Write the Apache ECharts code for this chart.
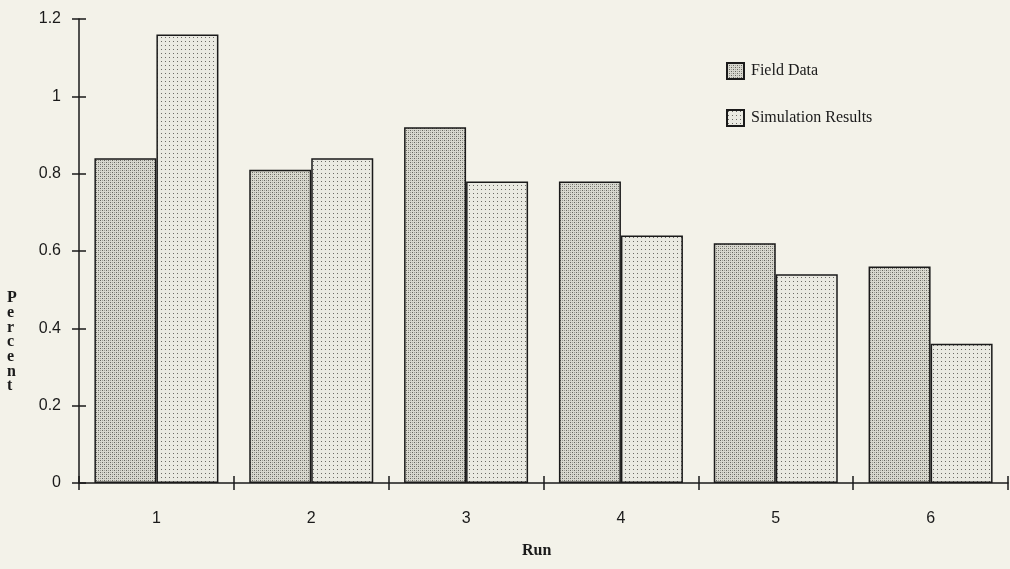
<!DOCTYPE html>
<html>
<head>
<meta charset="utf-8">
<script src="https://cdn.jsdelivr.net/npm/echarts@6/dist/echarts.min.js"></script>
<style>
  html, body { margin: 0; padding: 0; background: #f3f2e9; }
  #chart { width: 1010px; height: 569px; }
</style>
</head>
<body>
<div id="chart"></div>
<script>
// Run numbers and measured percentages
const runs = ['1', '2', '3', '4', '5', '6'];
const fieldData = [0.84, 0.81, 0.92, 0.78, 0.62, 0.56];
const simulationResults = [1.16, 0.84, 0.78, 0.64, 0.54, 0.36];
const yTicks = { min: 0, max: 1.2, interval: 0.2 };

// Stippled fills for the two bar series
function denseDots() {
  const c = document.createElement('canvas');
  c.width = 4; c.height = 4;
  const g = c.getContext('2d');
  g.fillStyle = '#d8d8cf'; g.fillRect(0, 0, 4, 4);
  g.fillStyle = '#66665f';
  g.fillRect(0, 0, 1, 1); g.fillRect(2, 2, 1, 1);
  g.fillStyle = '#a0a099';
  g.fillRect(2, 0, 1, 1); g.fillRect(0, 2, 1, 1);
  return c;
}
function sparseDots() {
  const c = document.createElement('canvas');
  c.width = 4; c.height = 4;
  const g = c.getContext('2d');
  g.fillStyle = '#eaeae2'; g.fillRect(0, 0, 4, 4);
  g.fillStyle = '#6a6a64';
  g.fillRect(1, 1, 1, 1);
  return c;
}

const W = 1010, H = 569;
const grid = { left: 79, right: 2, top: 19, bottom: 86 };
const plotW = W - grid.left - grid.right;
const plotH = H - grid.top - grid.bottom;

const chart = echarts.init(document.getElementById('chart'));
const axisColor = '#1a1a1a';
const numFont = '"Liberation Sans", Arial, sans-serif';
const serif = '"Liberation Serif", "Times New Roman", serif';
const tickStyle = { color: axisColor, width: 1.5 };

chart.setOption({
  backgroundColor: '#f3f2e9',
  animation: false,
  grid: grid,
  legend: {
    orient: 'vertical',
    left: 721,
    top: 57,
    icon: 'rect',
    itemWidth: 17,
    itemHeight: 16,
    itemGap: 29,
    textStyle: { fontFamily: serif, fontSize: 16, color: '#1a1a1a', padding: [0, 0, 0, 2] },
    data: ['Field Data', 'Simulation Results']
  },
  xAxis: [
    {
      type: 'category',
      data: runs,
      position: 'bottom',
      axisLine: { lineStyle: tickStyle },
      axisTick: { show: true, length: 7, lineStyle: tickStyle },
      axisLabel: { margin: 28, fontFamily: numFont, fontSize: 16, color: '#1a1a1a' }
    },
    {
      // upper half of the crossing ticks, moved down onto the baseline
      type: 'category',
      data: runs,
      position: 'top',
      offset: -plotH,
      axisLine: { show: true, lineStyle: { color: 'rgba(0,0,0,0)' } },
      axisTick: { show: true, length: 7, lineStyle: tickStyle },
      axisLabel: { show: false }
    }
  ],
  yAxis: [
    {
      type: 'value',
      position: 'left',
      min: yTicks.min, max: yTicks.max, interval: yTicks.interval,
      axisLine: { show: true, lineStyle: tickStyle },
      axisTick: { show: true, length: 7, lineStyle: tickStyle },
      splitLine: { show: false },
      axisLabel: { margin: 18, fontFamily: numFont, fontSize: 16, color: '#1a1a1a' }
    },
    {
      // right half of the crossing ticks, moved onto the left axis line
      type: 'value',
      position: 'right',
      offset: -plotW,
      min: yTicks.min, max: yTicks.max, interval: yTicks.interval,
      axisLine: { show: true, lineStyle: { color: 'rgba(0,0,0,0)' } },
      axisTick: { show: true, length: 7, lineStyle: tickStyle },
      splitLine: { show: false },
      axisLabel: { show: false }
    }
  ],
  series: [
    {
      name: 'Field Data',
      type: 'bar',
      data: fieldData,
      barWidth: 62,
      barGap: '0%',
      itemStyle: {
        color: { image: denseDots(), repeat: 'repeat' },
        borderColor: '#1a1a1a',
        borderWidth: 1.5
      }
    },
    {
      name: 'Simulation Results',
      type: 'bar',
      yAxisIndex: 1,
      data: simulationResults,
      barWidth: 62,
      barGap: '0%',
      itemStyle: {
        color: { image: sparseDots(), repeat: 'repeat' },
        borderColor: '#1a1a1a',
        borderWidth: 1.5
      }
    }
  ],
  graphic: [
    {
      type: 'text',
      left: 522,
      top: 543,
      style: { text: 'Run', font: 'bold 16px ' + serif, fill: '#1a1a1a' }
    },
    {
      type: 'text',
      left: 7,
      top: 290,
      style: {
        text: 'P\ne\nr\nc\ne\nn\nt',
        font: 'bold 16px ' + serif,
        lineHeight: 14.7,
        align: 'center',
        fill: '#1a1a1a'
      }
    }
  ]
});
</script>
</body>
</html>
